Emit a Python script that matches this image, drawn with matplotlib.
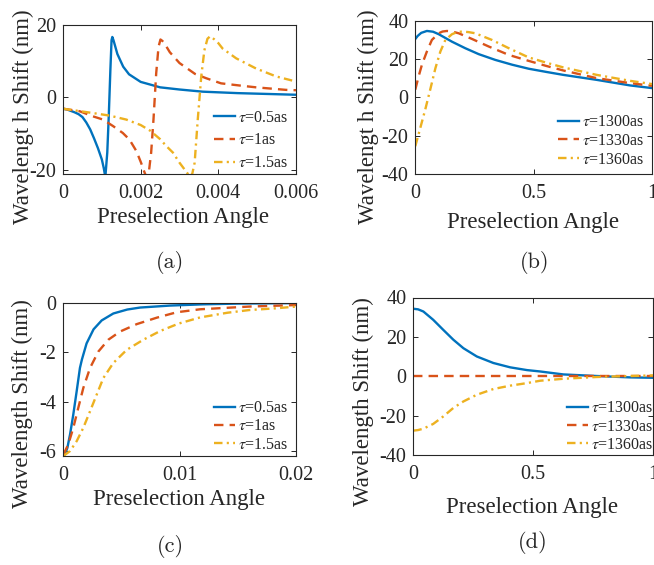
import matplotlib
matplotlib.use("Agg")
import matplotlib.pyplot as plt
from matplotlib.ticker import FuncFormatter

W, H = 654, 565
TXT = "#262626"
AZUL = "#0072BD"
ROJO = "#D95319"
AMARILLO = "#EDB120"

# (a) tau = 0.5, 1, 1.5 as
a_x_azul = [0, 0.0001, 0.0002, 0.0003, 0.0004, 0.0005, 0.0006, 0.0007, 0.0008, 0.0009, 0.001,
            0.00105, 0.00109, 0.00114, 0.00118, 0.00122, 0.00125, 0.00127, 0.0013, 0.0014,
            0.00155, 0.0017, 0.002, 0.0025, 0.003, 0.0036, 0.0045, 0.006]
a_y_azul = [-3.1, -3.3, -3.7, -4.1, -4.6, -5.4, -6.9, -8.8, -11.3, -14.0, -17.1,
            -19.5, -22.0, -15.2, -4.7, 7.6, 15.8, 16.7, 15.8, 12.0,
            8.5, 6.4, 4.3, 2.8, 2.2, 1.6, 1.2, 0.75]
a_x_rojo = [0, 0.00043, 0.00077, 0.00103, 0.00129, 0.00154, 0.00171, 0.00189, 0.00201, 0.0021,
            0.00215, 0.00221, 0.00227, 0.00233, 0.0024, 0.00246, 0.00251, 0.00256, 0.00262,
            0.00275, 0.003, 0.0034, 0.00369, 0.00407, 0.00463, 0.00497, 0.00574, 0.006]
a_y_rojo = [-3.1, -3.8, -5.2, -6.1, -7.9, -9.8, -11.6, -14.8, -18.0, -20.7,
            -22.0, -20.7, -15.2, -6.1, 6.7, 14.0, 16.0, 15.6, 14.8,
            12.5, 9.5, 6.5, 5.3, 3.9, 3.2, 2.8, 2.1, 2.0]
a_x_amar = [0, 0.00077, 0.0012, 0.00163, 0.002, 0.00225, 0.0025, 0.00266, 0.00283, 0.003,
            0.00321, 0.00327, 0.00333, 0.00339, 0.00347, 0.00356, 0.00364, 0.00372, 0.00379,
            0.0039, 0.004, 0.00411, 0.00446, 0.00497, 0.00549, 0.006]
a_y_amar = [-3.1, -4.3, -5.0, -6.1, -7.6, -9.2, -11.5, -13.4, -15.2, -18.0,
            -21.0, -22.0, -21.0, -18.0, -6.1, 5.8, 13.0, 16.2, 16.9,
            16.0, 15.0, 13.5, 10.8, 8.0, 5.8, 4.4]

# (b) tau = 1300, 1330, 1360 as
b_x_azul = [0, 0.01, 0.025, 0.049, 0.075, 0.099, 0.155, 0.211, 0.268, 0.338, 0.409, 0.479,
            0.555, 0.625, 0.766, 0.907, 1.0]
b_y_azul = [30.4, 32.0, 33.6, 34.6, 34.2, 32.9, 29.0, 25.6, 22.5, 19.5, 17.0, 14.9,
            13.2, 11.7, 9.1, 6.2, 4.8]
b_x_rojo = [0, 0.014, 0.028, 0.049, 0.07, 0.099, 0.115, 0.134, 0.155, 0.183, 0.24, 0.31,
            0.395, 0.479, 0.555, 0.625, 0.766, 0.907, 1.0]
b_y_rojo = [4.0, 10.9, 17.0, 23.9, 29.9, 33.4, 34.3, 34.6, 34.3, 33.4, 30.4, 26.5,
            22.1, 19.0, 16.3, 14.0, 10.0, 7.4, 6.0]
b_x_amar = [0, 0.021, 0.042, 0.063, 0.085, 0.106, 0.127, 0.155, 0.175, 0.197, 0.225, 0.253,
            0.324, 0.395, 0.479, 0.555, 0.625, 0.766, 0.907, 1.0]
b_y_amar = [-25.5, -16.0, -6.4, 4.0, 15.2, 23.9, 29.9, 32.9, 33.9, 34.3, 34.0, 33.4,
            29.9, 25.6, 20.8, 18.0, 15.6, 11.7, 8.6, 6.9]

# (c) tau = 0.5, 1, 1.5 as
c_x_azul = [0, 0.00015, 0.00035, 0.00058, 0.00086, 0.00115, 0.00143, 0.0016, 0.002, 0.0026,
            0.0033, 0.0043, 0.0055, 0.0066, 0.00917, 0.012, 0.015, 0.02]
c_y_azul = [-6.15, -6.13, -5.87, -5.33, -4.52, -3.58, -2.64, -2.30, -1.65, -1.08,
            -0.72, -0.44, -0.28, -0.20, -0.12, -0.07, -0.04, -0.02]
c_x_rojo = [0, 0.00043, 0.00086, 0.00129, 0.00172, 0.0023, 0.00301, 0.00387, 0.00488, 0.00631,
            0.00803, 0.00975, 0.01175, 0.016, 0.02]
c_y_rojo = [-6.15, -5.73, -5.06, -4.25, -3.45, -2.64, -1.98, -1.50, -1.17, -0.87,
            -0.61, -0.39, -0.27, -0.16, -0.10]
c_x_amar = [0, 0.00058, 0.00115, 0.00172, 0.0023, 0.00287, 0.00344, 0.0043, 0.00545, 0.00688,
            0.00832, 0.0099, 0.01175, 0.0141, 0.016, 0.0183, 0.02]
c_y_amar = [-6.2, -6.0, -5.6, -5.06, -4.39, -3.72, -3.05, -2.44, -1.91, -1.50,
            -1.15, -0.85, -0.6, -0.41, -0.3, -0.23, -0.16]

# (d) tau = 1300, 1330, 1360 as
d_x_azul = [0, 0.02, 0.042, 0.083, 0.125, 0.167, 0.209, 0.265, 0.334, 0.404, 0.474, 0.529,
            0.626, 0.765, 0.904, 1.0]
d_y_azul = [34.3, 34.0, 32.9, 28.7, 23.6, 18.6, 14.3, 10.1, 6.8, 4.6, 3.2, 2.5,
            1.0, 0.2, -0.5, -0.7]
d_x_rojo = [0, 0.25, 0.5, 0.75, 1.0]
d_y_rojo = [0, 0, 0, 0, 0]
d_x_amar = [0, 0.02, 0.042, 0.083, 0.125, 0.167, 0.209, 0.265, 0.334, 0.404, 0.474, 0.529,
            0.626, 0.765, 0.904, 1.0]
d_y_amar = [-27.5, -27.2, -26.5, -24.1, -20.3, -16.0, -12.7, -9.3, -6.4, -4.7, -3.4, -2.2,
            -1.2, -0.3, 0.2, 0.5]

leyenda_corta = [r"$\tau$=0.5as", r"$\tau$=1as", r"$\tau$=1.5as"]
leyenda_larga = [r"$\tau$=1300as", r"$\tau$=1330as", r"$\tau$=1360as"]

plt.rcParams["font.family"] = ["Liberation Serif", "DejaVu Serif"]
plt.rcParams["mathtext.fontset"] = "stix"
plt.rcParams["axes.unicode_minus"] = False


def rect_px(izq, arriba, der, abajo):
    return [izq / W, 1 - abajo / H, (der - izq) / W, (abajo - arriba) / H]


def panel(fig, caja, series, etiquetas, xlim, ylim, xticks, yticks, ylabel,
          ylab_px, xlab_px, ley_px, ley_esp, letra, letra_px):
    izq, arriba, der, abajo = caja
    ax = fig.add_axes(rect_px(*caja))
    estilos = [(AZUL, "-", None), (ROJO, "--", (4.0, 2.6)), (AMARILLO, "-.", (3.6, 1.8, 0.9, 1.8))]
    for (x, y), et, (col, ls, dash) in zip(series, etiquetas, estilos):
        linea, = ax.plot(x, y, color=col, lw=1.7, ls=ls, label=et)
        if dash is not None:
            linea.set_dashes(dash)
    ax.set_xlim(*xlim)
    ax.set_ylim(*ylim)
    ax.set_xticks(xticks)
    ax.set_yticks(yticks)
    fmt = FuncFormatter(lambda v, _: f"{v:g}")
    ax.xaxis.set_major_formatter(fmt)
    ax.yaxis.set_major_formatter(fmt)
    ax.tick_params(direction="in", length=3.5, width=0.7, top=True, right=True,
                   labelsize=14.5, colors=TXT, pad=5)
    ax.tick_params(axis="x", pad=7)
    for s in ax.spines.values():
        s.set_color(TXT)
        s.set_linewidth(0.8)

    def ax_coords(px, py):
        return (px - izq) / (der - izq), (abajo - py) / (abajo - arriba)

    ax.set_ylabel(ylabel, fontsize=16.5, color=TXT, va="center")
    ax.yaxis.set_label_coords(*ax_coords(*ylab_px))
    ax.set_xlabel("Preselection Angle", fontsize=16.5, color=TXT, va="center")
    ax.xaxis.set_label_coords(*ax_coords(*xlab_px))

    ax.legend(loc="center right", bbox_to_anchor=ax_coords(*ley_px), frameon=False,
              fontsize=11.5, handlelength=1.35, handletextpad=0.15, labelspacing=ley_esp,
              borderpad=0, borderaxespad=0, labelcolor=TXT)
    fig.text(letra_px[0] / W, 1 - letra_px[1] / H, letra, family="cmr10", fontsize=16,
             ha="center", va="center", color=TXT)
    return ax


def main():
    fig = plt.figure(figsize=(W / 100, H / 100), dpi=100)
    panel(fig, (63, 25, 296, 174.3),
          [(a_x_azul, a_y_azul), (a_x_rojo, a_y_rojo), (a_x_amar, a_y_amar)],
          leyenda_corta, (0, 0.006), (-21.2, 20), [0, 0.002, 0.004, 0.006], [-20, 0, 20],
          "Wavelengt h Shift (nm)", (23, 116.5), (183, 218), (288, 140.5), 0.42,
          "(a)", (170, 263))
    panel(fig, (415.3, 20.6, 652, 174),
          [(b_x_azul, b_y_azul), (b_x_rojo, b_y_rojo), (b_x_amar, b_y_amar)],
          leyenda_larga, (0, 1), (-40, 40), [0, 0.5, 1], [-40, -20, 0, 20, 40],
          "Wavelengt h Shift (nm)", (368, 116.5), (533, 222), (644, 141), 0.17,
          "(b)", (535, 263))
    panel(fig, (63.3, 302.6, 296, 456),
          [(c_x_azul, c_y_azul), (c_x_rojo, c_y_rojo), (c_x_amar, c_y_amar)],
          leyenda_corta, (0, 0.02), (-6.2, 0), [0, 0.01, 0.02], [-6, -4, -2, 0],
          "Wavelength Shift (nm)", (22, 403.5), (179, 499), (288, 426.5), 0.14,
          "(c)", (170, 547))
    panel(fig, (413.3, 297.5, 653, 455.3),
          [(d_x_azul, d_y_azul), (d_x_rojo, d_y_rojo), (d_x_amar, d_y_amar)],
          leyenda_larga, (0, 1), (-40, 40), [0, 0.5, 1], [-40, -20, 0, 20, 40],
          "Wavelength Shift (nm)", (363, 402), (532, 507), (653, 426.7), 0.14,
          "(d)", (533, 543))
    fig.savefig("out.png", dpi=100, facecolor="white")


main()
